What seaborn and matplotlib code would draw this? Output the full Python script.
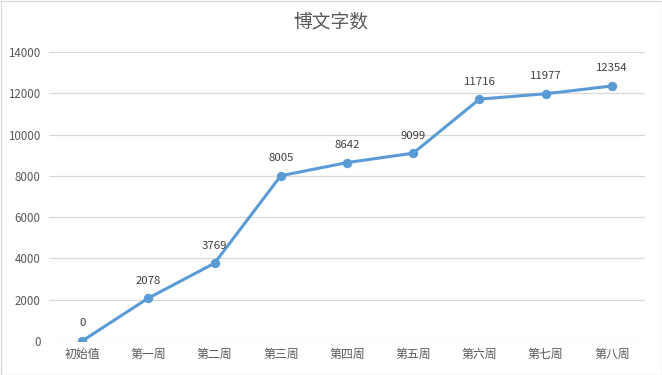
import matplotlib
matplotlib.use("Agg")
import matplotlib.pyplot as plt
import seaborn as sns
import pandas as pd

categories = ["初始值", "第一周", "第二周", "第三周", "第四周", "第五周", "第六周", "第七周", "第八周"]
values = [0, 2078, 3769, 8005, 8642, 9099, 11716, 11977, 12354]
yticks = [0, 2000, 4000, 6000, 8000, 10000, 12000, 14000]
title = "博文字数"

sns.set_theme(style="white")
plt.rcParams['font.family'] = ['Noto Sans CJK SC', 'DejaVu Sans']

df = pd.DataFrame({"cat": categories, "val": values, "x": range(len(categories))})

fig = plt.figure(figsize=(6.62, 3.75), dpi=100)
fig.patch.set_facecolor("white")
ax = fig.add_axes([49/662, 1-341/375, (645-49)/662, (341-52)/375])

for t in yticks:
    ax.axhline(t, color="#d9d9d9", lw=0.9, zorder=0)

sns.lineplot(data=df, x="x", y="val", ax=ax, color="#5b9bd5", lw=2.2,
             marker="o", markersize=6, markeredgecolor="#5b9bd5", zorder=3)

for xi, v in zip(df["x"], values):
    ax.annotate(str(v), (xi, v), xytext=(0, 9), textcoords="offset points",
                ha="center", va="bottom", fontsize=8.2, color="#404040")

ax.set_xlim(-0.5, len(categories) - 0.5)
ax.set_ylim(0, 14000)
ax.set_yticks(yticks)
ax.set_yticklabels([str(t) for t in yticks])
ax.set_xticks(list(df["x"]))
ax.set_xticklabels(categories)
ax.tick_params(axis="both", length=0, colors="#595959")
ax.tick_params(axis="x", pad=5, labelsize=8.6)
ax.tick_params(axis="y", pad=6, labelsize=8.3)
ax.set_xlabel("")
ax.set_ylabel("")
for s in ax.spines.values():
    s.set_visible(False)

fig.text(0.5, 1 - 22/375, title, ha="center", va="center", fontsize=13.5, color="#595959")

border = plt.Rectangle((0.5/662, 0.5/375), 1 - 1/662, 1 - 1/375, transform=fig.transFigure,
                       fill=False, edgecolor="#d9d9d9", lw=1)
fig.patches.append(border)

fig.savefig("out.png", dpi=100)
